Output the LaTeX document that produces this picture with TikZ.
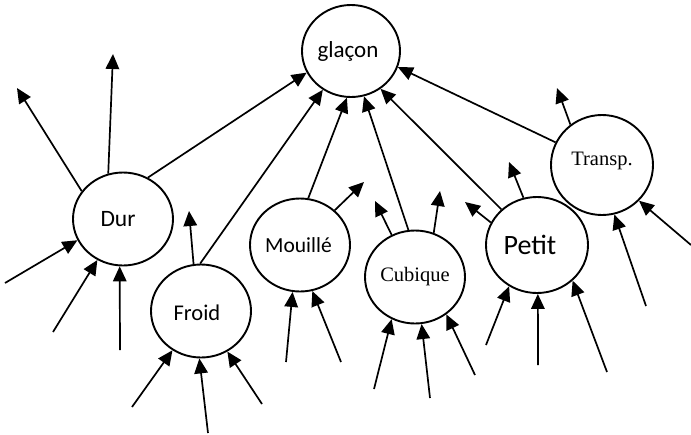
\documentclass[tikz,border=0pt]{standalone}
\usepackage{fontspec}
\newfontfamily\sansfnt{Carlito}
\newfontfamily\seriffnt{Liberation Serif}
\usetikzlibrary{shapes.geometric,arrows.meta}
\tikzset{
  bub/.style={draw, ellipse, line width=1.9pt, inner sep=0pt,
    minimum width=100pt, minimum height=93pt},
  link/.style={line width=1.7pt, -{Triangle[length=15pt,width=13.5pt]}},
}
\begin{document}
\begin{tikzpicture}[x=1pt,y=-1pt]
\useasboundingbox (0,0) rectangle (691,434);

% concept nodes
\node[bub, minimum width=98pt, minimum height=92pt,
  label={[xshift=-3pt]center:{\sansfnt\fontsize{23}{27}\selectfont glaçon}}] (glacon) at (351,51) {};
\node[bub, label={[xshift=-5pt]center:{\sansfnt\fontsize{23.5}{27}\selectfont Dur}}] (dur) at (123,219) {};
\node[bub, label={[xshift=-4pt,yshift=-2pt]center:{\sansfnt\fontsize{22.5}{27}\selectfont Froid}}] (froid) at (201,311) {};
\node[bub, label={[xshift=-1.5pt]center:{\sansfnt\fontsize{21.5}{26}\selectfont Mouillé}}] (mouille) at (300,245) {};
\node[bub, label={center:{\seriffnt\fontsize{20.5}{24}\selectfont Cubique}}] (cubique) at (415,277) {};
\node[bub, minimum width=102pt, minimum height=96pt,
  label={[xshift=-7pt]center:{\sansfnt\fontsize{28}{32}\selectfont Petit}}] (petit) at (537,245) {};
\node[bub, minimum width=102pt, minimum height=100pt,
  label={[yshift=4pt]center:{\seriffnt\fontsize{20.5}{24}\selectfont Transp.}}] (transp) at (602,165) {};

% free ends of the loose arrows
\coordinate (d1) at (17,88);
\coordinate (d2) at (113,54);
\coordinate (d3) at (5,283);
\coordinate (d4) at (53,332);
\coordinate (d5) at (120,350);
\coordinate (f1) at (189,211);
\coordinate (f2) at (132,407);
\coordinate (f3) at (208,433);
\coordinate (f4) at (262,404);
\coordinate (m1) at (364,182);
\coordinate (m2) at (286,362);
\coordinate (m3) at (341,362);
\coordinate (c1) at (375,201);
\coordinate (c2) at (440,191);
\coordinate (c3) at (374,389);
\coordinate (c4) at (430,398);
\coordinate (c5) at (475,375);
\coordinate (p1) at (465,202);
\coordinate (p2) at (509,162);
\coordinate (p3) at (486,345);
\coordinate (p4) at (538,365);
\coordinate (p5) at (607,372);
\coordinate (t1) at (557,88);
\coordinate (t2) at (646,306);
\coordinate (t3) at (691,245);

% links into glaçon
\draw[link] (dur.59.5) -- (glacon.206.6);
\draw[link] (froid.91.2) -- (glacon.234.6);
\draw[link] (mouille.80.1) -- (glacon.265.1);
\draw[link] (cubique.98.7) -- (glacon.286.9);
\draw[link] (petit.135) -- (glacon.308.5);
\draw[link] (transp.154.9) -- (glacon.341.6);

% Dur
\draw[link] (dur.146) -- (d1);
\draw[link] (dur.108.4) -- (d2);
\draw[link] (d3) -- (dur.205);
\draw[link] (d4) -- (dur.238.6);
\draw[link] (d5) -- (dur.266.3);

% Froid
\draw[link] (froid.99.9) -- (f1);
\draw[link] (f2) -- (froid.234.7);
\draw[link] (f3) -- (froid.268.8);
\draw[link] (f4) -- (froid.303.4);

% Mouillé
\draw[link] (mouille.45) -- (m1);
\draw[link] (m2) -- (mouille.261.5);
\draw[link] (m3) -- (mouille.285.8);

% Cubique
\draw[link] (cubique.119.7) -- (c1);
\draw[link] (cubique.67.1) -- (c2);
\draw[link] (c3) -- (cubique.241.9);
\draw[link] (c4) -- (cubique.278.3);
\draw[link] (c5) -- (cubique.310.1);

% Petit
\draw[link] (petit.154.4) -- (p1);
\draw[link] (petit.106.6) -- (p2);
\draw[link] (p3) -- (petit.236.3);
\draw[link] (p4) -- (petit.271.1);
\draw[link] (p5) -- (petit.315);

% Transp.
\draw[link] (transp.128.7) -- (t1);
\draw[link] (t2) -- (transp.284);
\draw[link] (t3) -- (transp.316.5);
\end{tikzpicture}
\end{document}
